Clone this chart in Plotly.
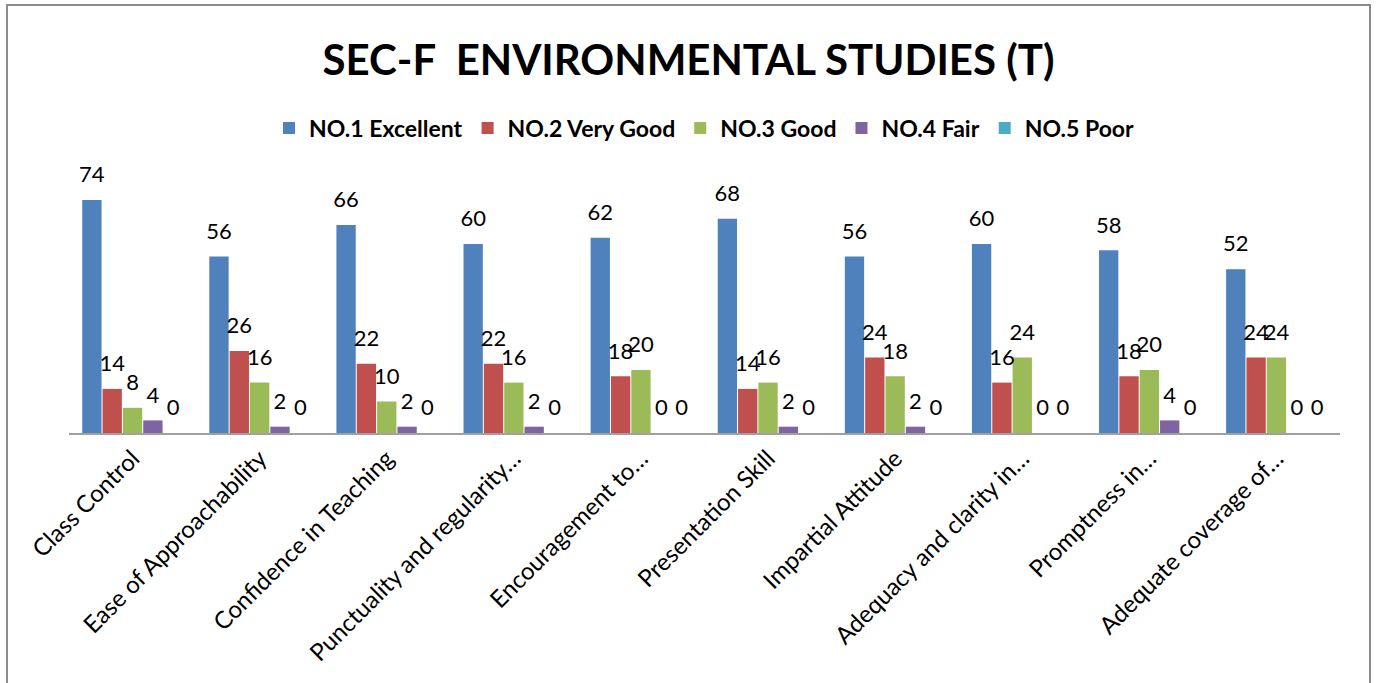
import plotly.graph_objects as go

categories = ["Class Control", "Ease of Approachability", "Confidence in Teaching",
              "Punctuality and regularity…", "Encouragement to…", "Presentation Skill",
              "Impartial Attitude", "Adequacy and clarity in…", "Promptness in…",
              "Adequate coverage of…"]
series_names = ["NO.1 Excellent", "NO.2 Very Good", "NO.3 Good", "NO.4 Fair", "NO.5 Poor"]
excellent = [74, 56, 66, 60, 62, 68, 56, 60, 58, 52]
very_good = [14, 26, 22, 22, 18, 14, 24, 16, 18, 24]
good = [8, 16, 10, 16, 20, 16, 18, 24, 20, 24]
fair = [4, 2, 2, 2, 0, 2, 2, 0, 4, 0]
poor = [0, 0, 0, 0, 0, 0, 0, 0, 0, 0]
colors = ["#4F81BD", "#C0504D", "#9BBB59", "#8064A2", "#4BACC6"]

FONT = "Lato, 'Open Sans', sans-serif"
all_series = [excellent, very_good, good, fair, poor]

fig = go.Figure()
for name, vals, col in zip(series_names, all_series, colors):
    fig.add_trace(go.Bar(
        x=categories, y=vals, name=name,
        marker=dict(color=col, line=dict(width=0)),
        cliponaxis=False,
    ))
# data labels (offset above the bars like the reference)
for name, vals in zip(series_names, all_series):
    fig.add_trace(go.Scatter(
        x=categories, y=vals, mode="markers+text", showlegend=False,
        marker=dict(size=18, opacity=0), hoverinfo="skip",
        text=[str(v) for v in vals], textposition="top center",
        textfont=dict(family=FONT, size=22, color="#000000"),
        cliponaxis=False,
    ))

fig.update_layout(
    width=1377, height=683,
    paper_bgcolor="white", plot_bgcolor="white",
    barmode="group", bargap=0.2, bargroupgap=0.05,
    scattermode="group", scattergap=0.2,
    margin=dict(l=69, r=37, t=181, b=250),
    title=dict(text="<b>SEC-F  ENVIRONMENTAL STUDIES (T)</b>", x=0.5, xanchor="center",
               y=1 - 60 / 683, yanchor="middle",
               font=dict(family=FONT, size=42, color="#000000")),
    legend=dict(orientation="h", x=0.5, xanchor="center", y=(433 - 128) / 252, yanchor="middle",
                font=dict(family=FONT, size=23, color="#000000", weight="bold"),
                itemwidth=30, traceorder="normal"),
    showlegend=True,
    xaxis=dict(showline=True, linecolor="#A0A0A0", linewidth=2, tickangle=-45,
               tickfont=dict(family=FONT, size=24, color="#000000"),
               showgrid=False, ticks=""),
    yaxis=dict(range=[0, 80], visible=False, showgrid=False, zeroline=False),
    shapes=[dict(type="rect", xref="paper", yref="paper",
                 x0=(7 - 69) / 1271, x1=(1370 - 69) / 1271,
                 y0=(433 - 700) / 252, y1=(433 - 5) / 252,
                 line=dict(color="#8C8C8C", width=2), fillcolor="rgba(0,0,0,0)", layer="below")],
)

fig.write_html("out.html", config={"displayModeBar": False},
               post_script="document.body.style.margin='0';")
